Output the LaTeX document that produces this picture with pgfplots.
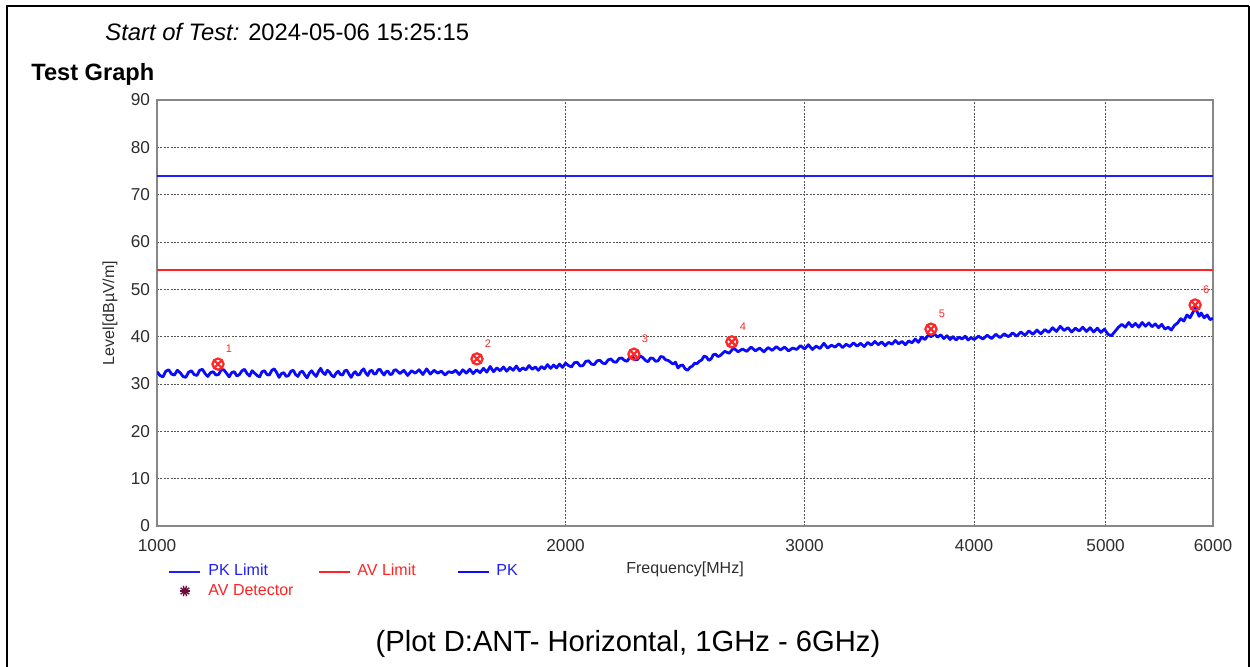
\documentclass[border=0pt]{standalone}
\usepackage{fontspec}
\setmainfont{Liberation Sans}
\usepackage{pgfplots}
\usepackage{pgfplotstable}
\pgfplotsset{compat=1.18}
\usetikzlibrary{plotmarks}
\definecolor{pkblue}{RGB}{30,30,255}
\definecolor{avred}{RGB}{255,35,35}
\definecolor{traceblue}{RGB}{10,10,255}
\definecolor{mkred}{RGB}{255,40,40}
\definecolor{avdet}{RGB}{110,12,60}
\definecolor{gridgray}{RGB}{85,85,85}
\definecolor{axgray}{RGB}{135,135,135}
\definecolor{txtgray}{RGB}{45,45,45}

\pgfplotstableread{
f L
1000 32.6
1005 31.8
1010 31.5
1015 32.7
1020 33.0
1025 32.1
1030 31.9
1035 32.9
1040 32.4
1045 31.6
1050 31.4
1055 32.5
1060 32.8
1065 32.0
1070 31.8
1075 32.9
1080 33.1
1085 32.2
1090 31.6
1095 32.4
1100 32.6
1105 31.9
1110 32.0
1115 33.0
1120 33.0
1125 32.3
1130 31.5
1135 32.4
1140 32.6
1145 31.7
1150 32.0
1155 32.8
1160 33.1
1165 32.2
1170 31.7
1175 32.8
1180 32.3
1185 31.8
1190 31.5
1195 32.6
1200 32.8
1205 32.0
1210 31.9
1215 32.9
1220 33.2
1225 32.4
1230 31.4
1235 32.2
1240 32.4
1245 31.6
1250 31.8
1255 32.7
1260 32.9
1265 32.0
1270 31.6
1275 32.5
1280 32.7
1285 31.9
1290 31.3
1295 32.3
1300 32.8
1305 32.1
1310 31.6
1315 32.6
1320 33.3
1325 32.4
1330 32.0
1335 32.9
1340 32.5
1345 31.8
1350 31.5
1355 32.3
1360 32.7
1365 32.0
1370 31.9
1375 32.8
1380 32.9
1385 32.1
1390 31.4
1395 32.2
1400 32.6
1405 31.9
1410 32.0
1415 32.8
1420 33.2
1425 32.3
1430 31.8
1435 32.7
1440 32.9
1445 32.1
1450 32.2
1455 33.0
1460 33.1
1465 32.4
1470 31.9
1475 32.6
1480 32.7
1485 32.0
1490 32.1
1495 32.9
1500 33.0
1510 32.2
1520 32.9
1530 31.8
1540 32.8
1550 32.3
1560 33.0
1570 32.0
1580 33.2
1590 32.1
1600 32.9
1610 32.3
1620 32.7
1630 31.9
1640 32.6
1650 32.4
1660 32.9
1670 32.0
1680 33.0
1690 32.3
1700 33.1
1710 32.2
1720 33.0
1730 32.4
1740 33.3
1750 32.5
1760 33.7
1770 32.6
1780 33.4
1790 32.8
1800 33.6
1810 32.7
1820 33.5
1830 32.9
1840 33.8
1850 32.8
1860 33.4
1870 33.0
1880 33.9
1890 33.1
1900 33.6
1910 32.9
1920 33.7
1930 33.2
1940 34.1
1950 33.3
1960 34.0
1970 33.4
1980 34.2
1990 33.5
2000 34.4
2010 33.9
2020 33.6
2030 34.5
2040 34.6
2050 33.8
2060 33.9
2070 34.8
2080 34.9
2090 34.2
2100 34.1
2110 34.9
2120 35.0
2130 34.4
2140 34.3
2150 35.1
2160 35.3
2170 34.7
2180 34.6
2190 35.4
2200 35.5
2210 35.0
2220 34.8
2230 35.6
2240 35.8
2250 35.1
2260 35.2
2270 35.9
2280 35.6
2290 35.0
2300 34.7
2310 35.5
2320 35.4
2330 34.8
2340 34.9
2350 35.8
2360 35.7
2370 35.1
2380 35.0
2390 34.6
2400 34.2
2410 34.6
2420 33.4
2430 33.9
2440 34.0
2450 33.2
2460 32.9
2470 33.5
2480 33.8
2490 34.4
2500 34.3
2510 34.8
2520 35.1
2530 35.9
2540 35.7
2550 35.0
2560 35.3
2570 36.2
2580 36.3
2590 35.8
2600 36.0
2620 36.9
2640 36.5
2660 37.6
2680 36.8
2700 37.4
2720 36.9
2740 37.8
2760 37.0
2780 37.6
2800 36.8
2820 37.7
2840 37.1
2860 37.9
2880 37.2
2900 37.8
2920 37.0
2940 37.6
2960 37.3
2980 38.1
3000 37.4
3020 38.3
3040 37.3
3060 38.0
3080 37.5
3100 38.6
3120 37.6
3140 38.2
3160 37.8
3180 38.5
3200 37.7
3220 38.4
3240 37.9
3260 38.7
3280 38.0
3300 38.6
3320 37.9
3340 38.8
3360 38.2
3380 39.0
3400 38.3
3420 38.9
3440 38.1
3460 38.8
3480 38.4
3500 39.2
3520 38.5
3540 39.0
3560 38.3
3580 39.1
3600 38.7
3620 39.5
3640 38.8
3660 39.9
3680 39.4
3700 40.3
3720 40.0
3740 40.6
3760 39.9
3780 40.4
3800 39.6
3820 40.2
3840 39.4
3860 40.0
3880 39.3
3900 39.9
3920 39.5
3940 40.1
3960 39.3
3980 39.8
4000 39.4
4030 40.1
4060 39.5
4090 40.3
4120 39.6
4150 40.5
4180 39.8
4210 40.6
4240 40.0
4270 40.8
4300 40.1
4330 41.0
4360 40.3
4390 41.2
4420 40.5
4450 41.4
4480 40.6
4510 41.5
4540 40.9
4570 41.9
4600 41.1
4630 42.2
4660 41.3
4690 41.9
4720 41.0
4750 41.8
4780 41.2
4810 42.0
4840 41.1
4870 41.9
4900 41.0
4930 41.8
4960 40.9
4990 41.6
5020 40.5
5050 40.2
5080 41.1
5110 42.0
5140 42.6
5170 42.0
5200 43.0
5230 42.1
5260 42.8
5290 42.0
5320 43.0
5350 42.2
5380 42.9
5410 42.1
5440 42.7
5470 41.9
5500 42.6
5530 41.6
5560 42.0
5590 41.4
5620 42.4
5650 42.9
5680 43.8
5710 43.3
5740 44.6
5770 44.0
5800 45.2
5820 46.0
5840 45.3
5860 44.3
5880 45.0
5910 44.0
5940 44.6
5970 43.6
6000 43.9
}\pktrace

\pgfplotstableread{
f L n
1109 34.2 1
1721 35.3 2
2246 36.3 3
2652 38.9 4
3718 41.6 5
5820 46.7 6
}\markers

\begin{document}
\begin{tikzpicture}
\useasboundingbox (0,0) rectangle (625pt,333pt);
\draw[line width=1pt] (3.5pt,-1pt) -- (3.5pt,330pt) -- (624.5pt,330pt);
\draw[line width=0.6pt] (624.5pt,330pt) -- (624.5pt,-1pt);
\node[anchor=base west, inner sep=0pt, font=\fontsize{11.9}{13}\selectfont] at (52.5pt,312.5pt) {\textit{Start of Test:} 2024-05-06 15:25:15};
\node[anchor=base west, inner sep=0pt, font=\fontsize{11.8}{13}\selectfont\bfseries] at (15.5pt,293pt) {Test Graph};
\node[anchor=base, inner sep=0pt, font=\fontsize{14.6}{16}\selectfont] at (314pt,7.5pt) {(Plot D:ANT- Horizontal, 1GHz - 6GHz)};
\begin{axis}[
  at={(78.5pt,70pt)}, anchor=south west,
  scale only axis, width=528pt, height=213pt,
  xmode=log, xmin=1000, xmax=6000, ymin=0, ymax=90,
  xtick={1000,2000,3000,4000,5000,6000},
  xticklabels={1000,2000,3000,4000,5000,6000},
  minor xtick={},
  ytick={0,10,20,30,40,50,60,70,80,90},
  grid=major,
  major grid style={gridgray, line width=0.45pt, dash pattern=on 1pt off 0.7pt},
  axis line style={axgray, line width=0.8pt},
  major tick length=0pt,
  tick label style={font=\fontsize{8.6}{10}\selectfont, text=txtgray},
  /pgf/number format/assume math mode=true,
  xticklabel style={yshift=-3pt},
  xlabel={Frequency[MHz]},
  xlabel style={at={(axis description cs:0.5,0)}, anchor=center, yshift=-21.75pt, font=\fontsize{8}{9.5}\selectfont, text=txtgray},
  ylabel={Level[dBµV/m]},
  ylabel style={at={(axis description cs:-0.0445,0.5)}, anchor=center, font=\fontsize{8}{9.5}\selectfont, text=txtgray},
  legend columns=3,
  legend cell align=left,
  legend image code/.code={\draw[#1] (0pt,0pt) -- (15.5pt,0pt);},
  legend style={draw=none, fill=none, at={(axis description cs:0,0)}, anchor=north west,
    xshift=2.5pt, yshift=-17pt, font=\fontsize{8}{9.5}\selectfont,
    nodes={inner sep=0pt}, column sep=0pt, row sep=2.5pt},
]
\addplot[pkblue, line width=1pt] coordinates {(1000,74) (6000,74)};
\addlegendentry{\makebox[58.5pt][l]{\hspace{3.5pt}\textcolor{pkblue}{PK Limit}}}
\addplot[avred, line width=1pt] coordinates {(1000,54) (6000,54)};
\addlegendentry{\makebox[53pt][l]{\hspace{3pt}\textcolor{avred}{AV Limit}}}
\addplot[traceblue, line width=1.4pt, line join=round,
  legend image code/.code={\draw[traceblue, line width=1pt] (0pt,0pt) -- (15.5pt,0pt);}] table[x=f, y=L] {\pktrace};
\addlegendentry{\hspace{3pt}\textcolor{pkblue}{PK}}
\addlegendimage{draw=none, legend image code/.code={\path[draw=none] (0pt,0pt) -- (15.5pt,0pt); \fill[avdet] (7.75pt,0pt) circle (1.5pt); \foreach \a in {0,36,...,324} {\draw[avdet, line width=0.7pt] (7.75pt,0pt) -- ++(\a:2.7pt);}}}
\addlegendentry{\makebox[58.5pt][l]{\hspace{3.5pt}\textcolor{avred}{AV Detector}}}
\addplot[only marks, mark=otimes, mark size=2.8pt, mkred, line width=1.1pt,
  nodes near coords, point meta=explicit symbolic,
  nodes near coords style={font=\fontsize{5.5}{6}\selectfont, text=mkred, anchor=center, xshift=5.5pt, yshift=7.5pt, inner sep=0pt},
  forget plot] table[x=f, y=L, meta=n] {\markers};
\end{axis}
\end{tikzpicture}
\end{document}
